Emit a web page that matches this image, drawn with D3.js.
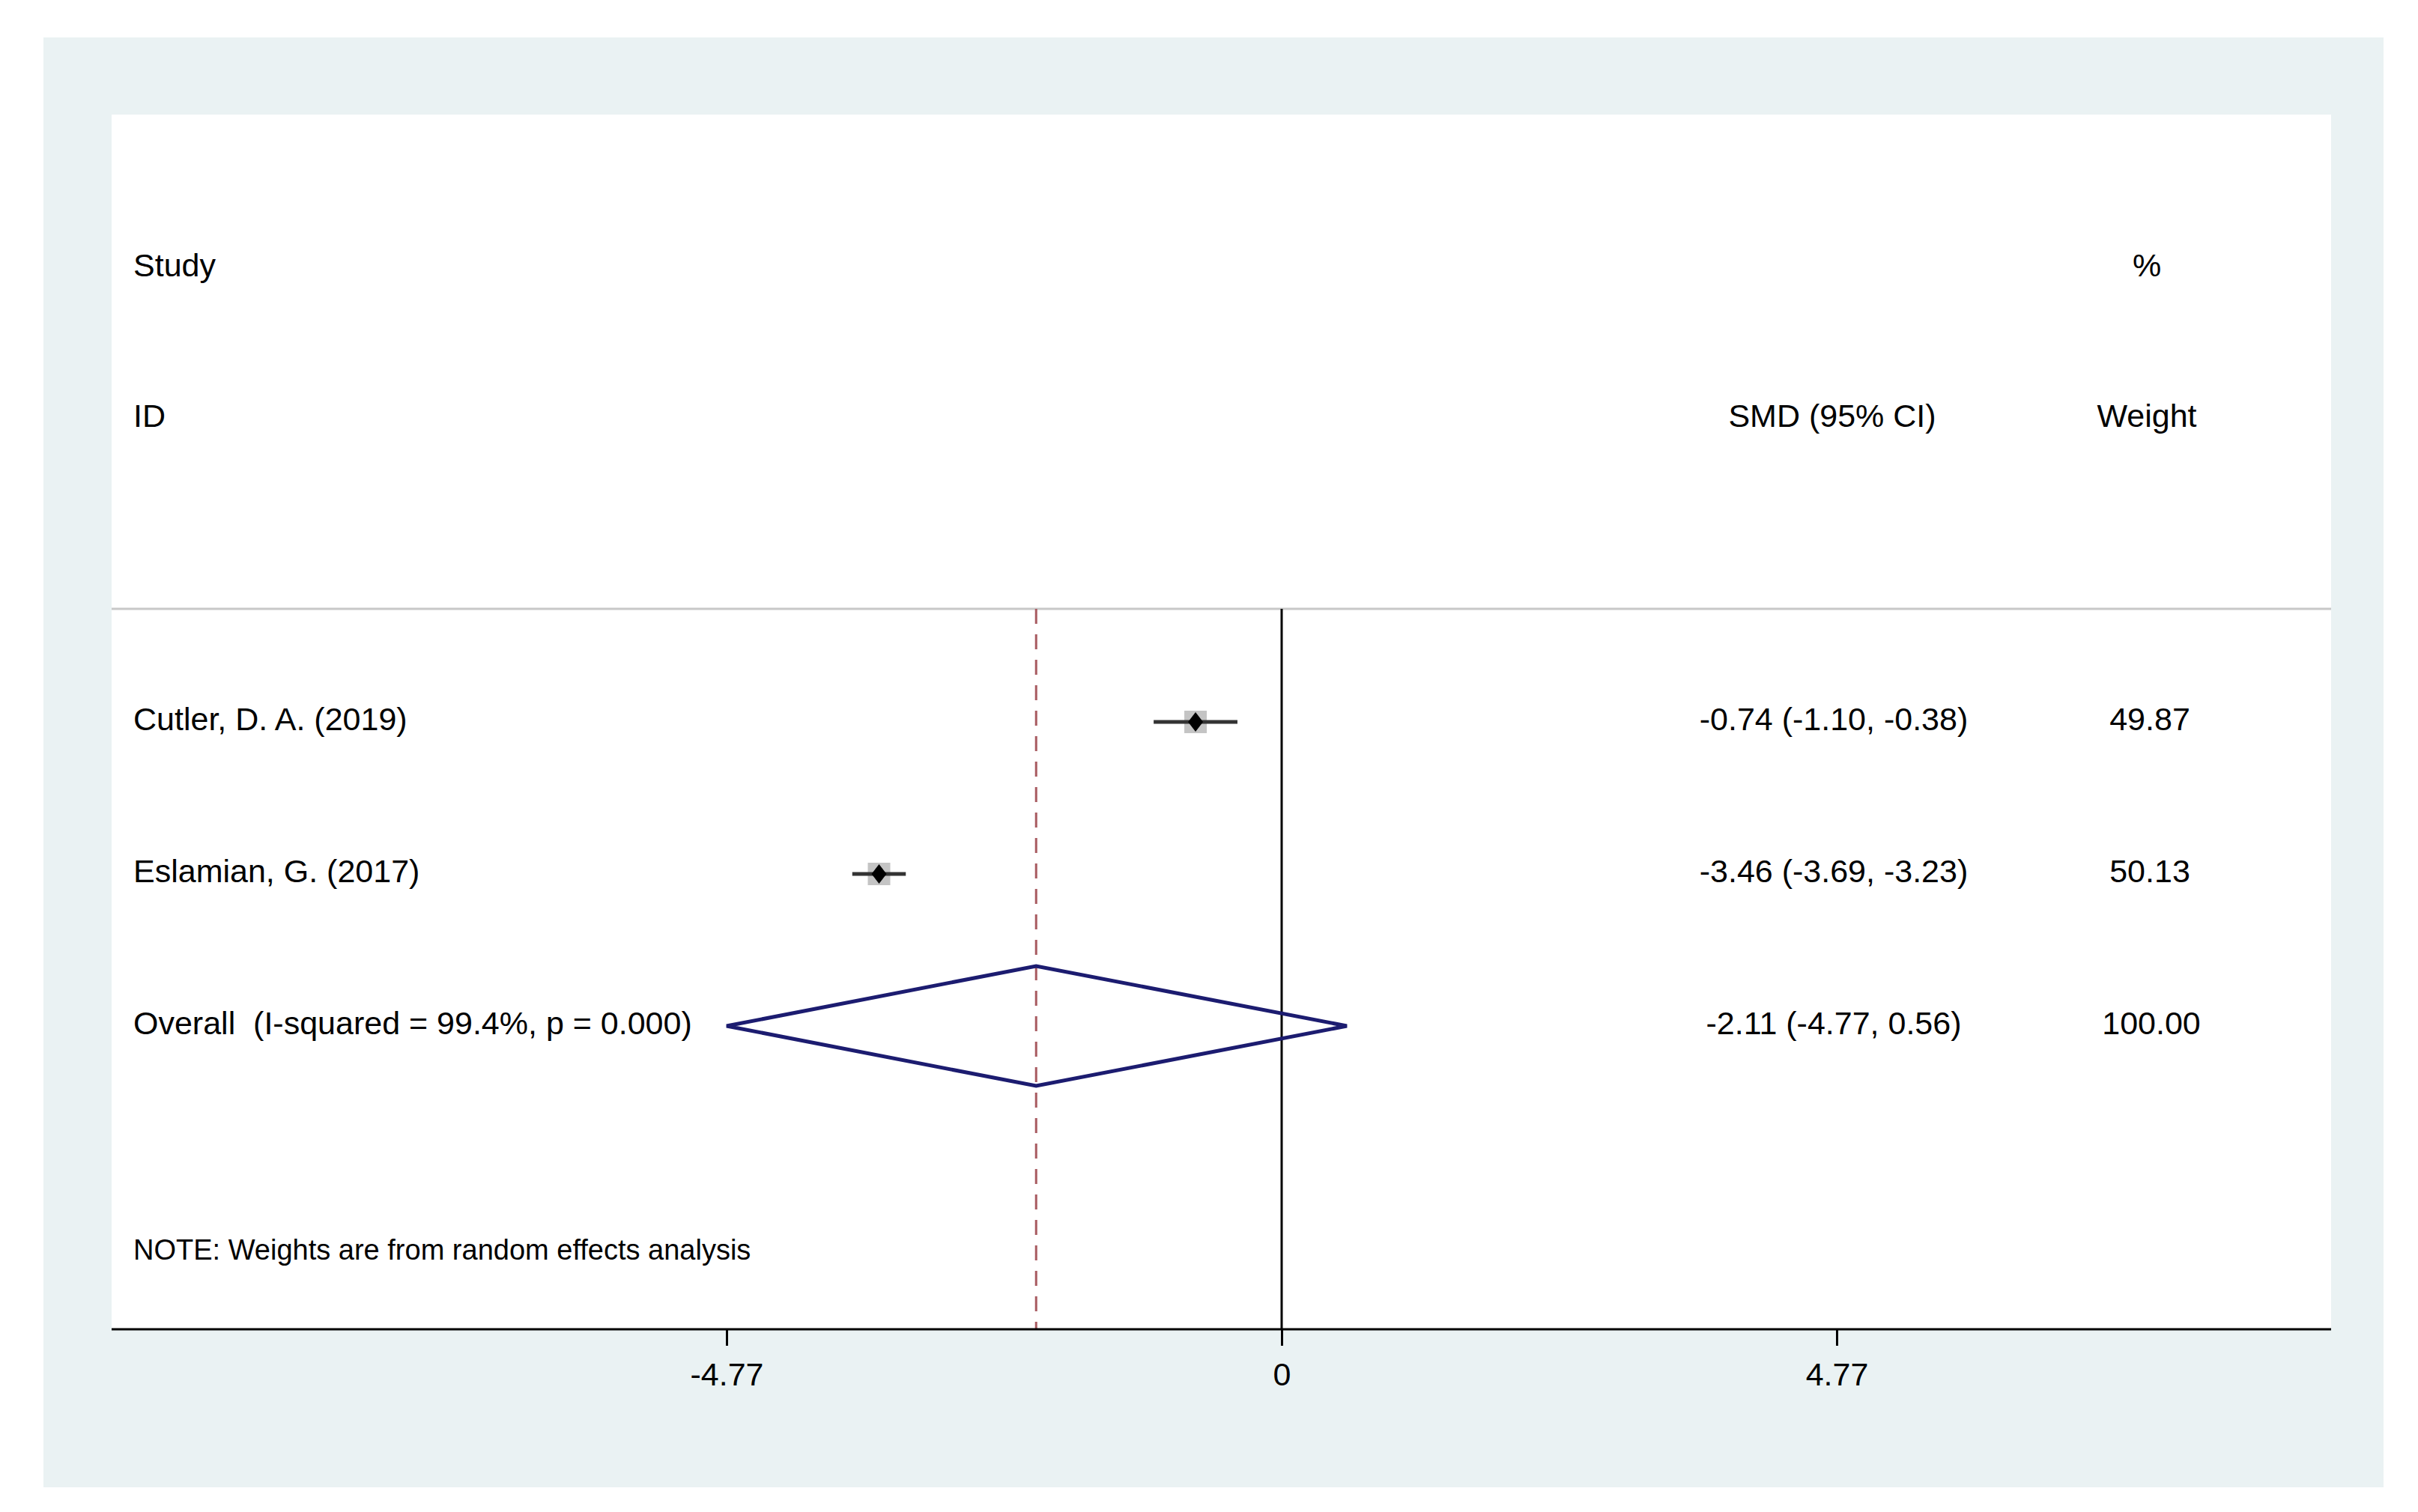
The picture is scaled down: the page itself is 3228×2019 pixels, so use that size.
<!DOCTYPE html>
<html><head><meta charset="utf-8">
<script src="https://cdn.jsdelivr.net/npm/d3@7"></script>
<style>body{margin:0;background:#fff}text{font-family:"Liberation Sans",Arial,sans-serif;fill:#000}</style>
</head><body>
<svg id="c" width="3228" height="2019"></svg>
<script>
const studies = ["Cutler, D. A. (2019)", "Eslamian, G. (2017)"];
const smd = [-0.74, -3.46];
const lower = [-1.10, -3.69];
const upper = [-0.38, -3.23];
const weights = ["49.87", "50.13"];
const ciLabels = ["-0.74 (-1.10, -0.38)", "-3.46 (-3.69, -3.23)"];
const overall = {label: "Overall  (I-squared = 99.4%, p = 0.000)", est: -2.11, lo: -4.77, hi: 0.56, ci: "-2.11 (-4.77, 0.56)", w: "100.00"};
const tickVals = [-4.77, 0, 4.77];
const tickLabels = ["-4.77", "0", "4.77"];

const svg = d3.select("#c");
svg.append("rect").attr("x",58).attr("y",50).attr("width",3124).attr("height",1936).attr("fill","#eaf2f3");
svg.append("rect").attr("x",149).attr("y",153).attr("width",2963).attr("height",1622).attr("fill","#fff");

const x = d3.scaleLinear().domain([0, 4.77]).range([1711, 2452]);
const rows = d3.scalePoint().domain([...studies, "overall"]).range([964, 1370]);
const fs = 43;

const t = (tx, ty, s, anchor="start") => svg.append("text").attr("x",tx).attr("y",ty).attr("font-size",fs).attr("text-anchor",anchor).attr("dominant-baseline","middle").attr("xml:space","preserve").style("white-space","pre").text(s);
t(178,358,"Study"); t(178,559,"ID");
t(2446,559,"SMD (95% CI)","middle"); t(2866,358,"%","middle"); t(2866,559,"Weight","middle");
svg.append("line").attr("x1",149).attr("x2",3112).attr("y1",813).attr("y2",813).attr("stroke","#c8c8c8").attr("stroke-width",3);

svg.append("line").attr("x1",x(0)).attr("x2",x(0)).attr("y1",813).attr("y2",1775).attr("stroke","#000").attr("stroke-width",3);
svg.append("line").attr("x1",x(overall.est)).attr("x2",x(overall.est)).attr("y1",813).attr("y2",1775).attr("stroke","#a85a60").attr("stroke-width",3).attr("stroke-dasharray","20,14");

studies.forEach((s,i)=>{
  const y = rows(s);
  t(178,y,s);
  t(2448,y,ciLabels[i],"middle");
  t(2870,y,weights[i],"middle");
  svg.append("rect").attr("x",x(smd[i])-15).attr("y",y-15).attr("width",30).attr("height",30).attr("fill","#c4c4c4");
  svg.append("line").attr("x1",x(lower[i])).attr("x2",x(upper[i])).attr("y1",y).attr("y2",y).attr("stroke","#333").attr("stroke-width",5);
  svg.append("path").attr("d",`M${x(smd[i])-10},${y}L${x(smd[i])},${y-13}L${x(smd[i])+10},${y}L${x(smd[i])},${y+13}Z`).attr("fill","#000");
});

const oy = rows("overall");
t(178,oy,overall.label);
t(2448,oy,overall.ci,"middle");
t(2872,oy,overall.w,"middle");
svg.append("path").attr("d",`M${x(overall.lo)},${oy}L${x(overall.est)},${oy-80}L${x(overall.hi)},${oy}L${x(overall.est)},${oy+80}Z`)
  .attr("fill","none").attr("stroke","#1c1c70").attr("stroke-width",5);

t(178,1672,"NOTE: Weights are from random effects analysis").attr("font-size",38);

const ax = svg.append("g").attr("transform","translate(0,1775)")
  .call(d3.axisBottom(x).tickValues(tickVals).tickFormat((d,i)=>tickLabels[i]).tickSize(22).tickPadding(22));
ax.select(".domain").remove();
ax.selectAll(".tick line").attr("stroke","#000").attr("stroke-width",3);
ax.selectAll(".tick text").attr("font-size",fs).attr("font-family","Liberation Sans, Arial, sans-serif").attr("fill","#000");
svg.append("line").attr("x1",149).attr("x2",3112).attr("y1",1775).attr("y2",1775).attr("stroke","#000").attr("stroke-width",3);
</script>
</body></html>
